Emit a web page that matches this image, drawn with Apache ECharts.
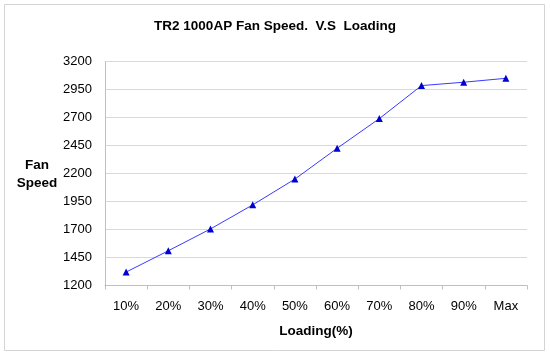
<!DOCTYPE html>
<html><head><meta charset="utf-8">
<script src="https://cdn.jsdelivr.net/npm/echarts@6/dist/echarts.min.js"></script>
<style>html,body{margin:0;padding:0;background:#fff}#c{width:550px;height:355px}</style>
</head><body><div id="c"></div>
<script>
const categories = ['10%','20%','30%','40%','50%','60%','70%','80%','90%','Max'];
const fanSpeed = [1320,1510,1705,1920,2150,2425,2690,2985,3015,3050];
const yMin = 1200, yMax = 3200, yStep = 250;

const FONT = 'Liberation Sans, Arial';
const chart = echarts.init(document.getElementById('c'), null, {renderer:'canvas'});
chart.setOption({
  animation:false,
  backgroundColor:'#fff',
  title:{text:'TR2 1000AP Fan Speed.  V.S  Loading',left:'center',top:14,
    textStyle:{fontFamily:FONT,fontSize:13.5,fontWeight:'bold',color:'#000'}},
  grid:{left:105,right:23,top:61.5,bottom:69.5,containLabel:false},
  xAxis:{type:'category',data:categories,boundaryGap:true,
    name:'Loading(%)',nameLocation:'middle',nameGap:39,
    nameTextStyle:{fontFamily:FONT,fontSize:13.5,fontWeight:'bold',color:'#000'},
    axisLine:{lineStyle:{color:'#bfbfbf',width:1}},
    axisTick:{show:true,length:4,lineStyle:{color:'#bfbfbf'}},
    axisLabel:{margin:14,fontFamily:FONT,fontSize:13,color:'#000'}},
  yAxis:{type:'value',min:yMin,max:yMax,interval:yStep,
    axisLine:{show:true,lineStyle:{color:'#bfbfbf',width:1}},
    axisTick:{show:false},
    splitLine:{lineStyle:{color:'#d9d9d9',width:1}},
    axisLabel:{margin:13,fontFamily:FONT,fontSize:13,color:'#000',formatter:v=>String(v)}},
  series:[{type:'line',data:fanSpeed,symbol:'triangle',symbolSize:7,
    lineStyle:{color:'#3a3aff',width:1},
    itemStyle:{color:'#0000d0'}}],
  graphic:[
    {type:'rect',shape:{x:4.5,y:4.5,width:540,height:346},style:{fill:'none',stroke:'#d4d4d4',lineWidth:1},silent:true},
    {type:'text',x:37,y:165,style:{text:'Fan',align:'center',verticalAlign:'middle',fontFamily:FONT,fontSize:13.5,fontWeight:'bold',fill:'#000'}},
    {type:'text',x:37,y:183,style:{text:'Speed',align:'center',verticalAlign:'middle',fontFamily:FONT,fontSize:13.5,fontWeight:'bold',fill:'#000'}}
  ]
});
</script></body></html>
